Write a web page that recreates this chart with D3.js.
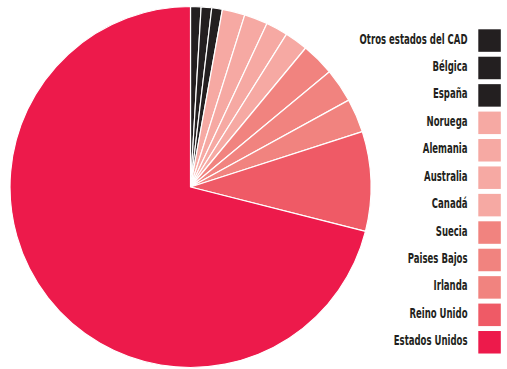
<!DOCTYPE html>
<html><head><meta charset="utf-8">
<script src="https://cdn.jsdelivr.net/npm/d3@7"></script>
<style>
html,body{margin:0;padding:0;background:#fff;}
svg{display:block;}
text{font-family:"DejaVu Sans Condensed","DejaVu Sans",sans-serif;font-weight:bold;font-stretch:condensed;}
</style></head>
<body>
<svg id="c" width="507" height="369"></svg>
<script>
const categories = ["Otros estados del CAD","Bélgica","España","Noruega","Alemania","Australia","Canadá","Suecia","Paises Bajos","Irlanda","Reino Unido","Estados Unidos"];
const values = [0.94,0.94,0.95,2.03,2.1,1.97,2.08,2.97,3.03,3.03,8.92,71.04];
const colors = ["#231f20","#231f20","#231f20","#f6a9a3","#f6a9a3","#f6a9a3","#f6a9a3","#f1837f","#f1837f","#f1837f","#ef5a66","#ed1a4b"];

const svg = d3.select("#c");
const cx = 190.5, cy = 187, r = 180.5;
const data = categories.map((c,i)=>({name:c,value:values[i],color:colors[i]}));
const pie = d3.pie().value(d=>d.value).sort(null);
const arc = d3.arc().innerRadius(0).outerRadius(r);
const g = svg.append("g").attr("transform",`translate(${cx},${cy})`);
g.selectAll("path").data(pie(data)).join("path")
  .attr("d",arc).attr("fill",d=>d.data.color)
  .attr("stroke","#fff").attr("stroke-width",1.2).attr("stroke-linejoin","round");

const y = d3.scaleBand().domain(categories).range([29.3, 29.3+27.04*12]).paddingInner(0.17).paddingOuter(0);
const lg = svg.append("g");
const row = lg.selectAll("g").data(data).join("g")
  .attr("transform",d=>`translate(0,${y(d.name)})`);
row.append("rect").attr("x",478.3).attr("y",0).attr("width",22.5).attr("height",22.5).attr("fill",d=>d.color);
const texts = row.append("g").attr("transform","translate(467.5,14.2)")
  .append("text").attr("x",0).attr("y",0)
  .attr("text-anchor","end").attr("fill","#231f20").attr("font-size",14.6).text(d=>d.name);
const w0 = texts.nodes()[0].getComputedTextLength();
const sx = 108 / w0;
texts.attr("transform",`scale(${sx},1)`);
</script>
</body></html>
